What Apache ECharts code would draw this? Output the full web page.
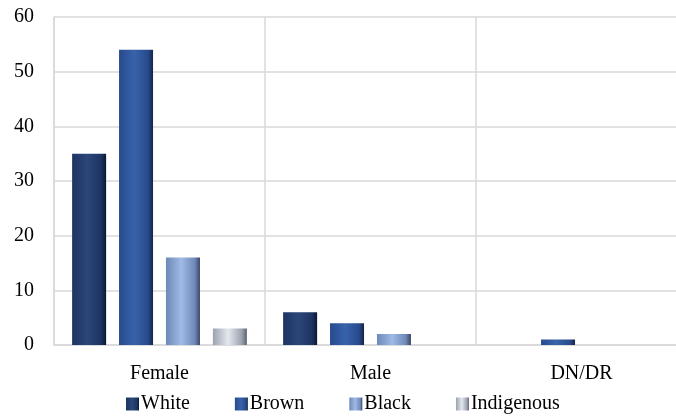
<!DOCTYPE html>
<html>
<head>
<meta charset="utf-8">
<script src="https://cdn.jsdelivr.net/npm/echarts@6/dist/echarts.min.js"></script>
<style>
  html, body { margin: 0; padding: 0; background: #fff; overflow: hidden; }
  /* the original chart is cut off on the right edge, so the canvas runs a bit past the window */
  #main { width: 687px; height: 420px; }
</style>
</head>
<body>
<div id="main"></div>
<script>
// data
var categories = ['Female', 'Male', 'DN/DR'];
var groups = ['White', 'Brown', 'Black', 'Indigenous'];
var white = [35, 6, 0];
var brown = [54, 4, 1];
var black = [16, 2, 0];
var indigenous = [3, 0, 0];
var yTicks = [0, 10, 20, 30, 40, 50, 60];

var values = [white, brown, black, indigenous];

// bevel-ish horizontal gradients: [left, middle, right edge]
var shades = [
  ['#1d3462', '#2b467a', '#0b1730'],
  ['#284a8c', '#3763ab', '#142547'],
  ['#6e88b8', '#a0bae6', '#3a4560'],
  ['#9aa2ae', '#e4e8ee', '#5c626c']
];

function grad(c) {
  return new echarts.graphic.LinearGradient(0, 0, 1, 0, [
    { offset: 0, color: c[0] },
    { offset: 0.45, color: c[1] },
    { offset: 0.85, color: c[0] },
    { offset: 1, color: c[2] }
  ]);
}

var font = "'Liberation Serif', 'DejaVu Serif', serif";

var chart = echarts.init(document.getElementById('main'));

var option = {
  animation: false,
  textStyle: { fontFamily: font },
  grid: { left: 54, right: 0, top: 17, bottom: 75 },
  legend: {
    top: 394,
    left: 126,
    padding: 0,
    itemWidth: 13,
    itemHeight: 13,
    itemGap: 45,
    icon: 'rect',
    textStyle: { fontFamily: font, fontSize: 20, color: '#000', padding: [0, 0, 0, -3] },
    data: groups
  },
  xAxis: {
    type: 'category',
    data: categories,
    axisLine: { lineStyle: { color: '#d9d9d9', width: 1.5 } },
    axisTick: { show: false },
    splitLine: { show: true, lineStyle: { color: '#d9d9d9', width: 1.5 } },
    axisLabel: { color: '#000', fontSize: 20, fontFamily: font, margin: 19 }
  },
  yAxis: {
    type: 'value',
    min: yTicks[0],
    max: yTicks[yTicks.length - 1],
    interval: 10,
    axisLine: { show: true, lineStyle: { color: '#d9d9d9', width: 1.5 } },
    axisTick: { show: false },
    splitLine: { lineStyle: { color: '#d9d9d9', width: 1.5 } },
    axisLabel: { color: '#000', fontSize: 20, fontFamily: font, margin: 20 }
  },
  series: groups.map(function (name, i) {
    return {
      name: name,
      type: 'bar',
      data: values[i],
      barWidth: 34,
      barGap: '38%',
      itemStyle: { color: grad(shades[i]) }
    };
  })
};

chart.setOption(option);
</script>
</body>
</html>
